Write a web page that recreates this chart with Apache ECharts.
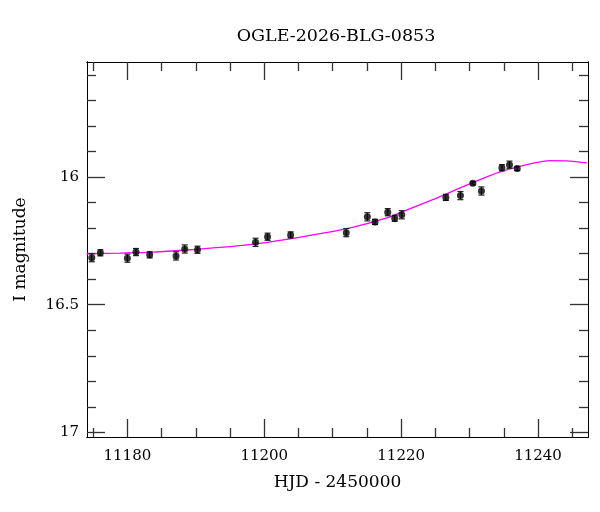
<!DOCTYPE html>
<html>
<head>
<meta charset="utf-8">
<script src="https://cdn.jsdelivr.net/npm/echarts@6/dist/echarts.min.js"></script>
<style>
  html, body { margin: 0; padding: 0; background: #fff; }
  #main { width: 600px; height: 512px; }
</style>
</head>
<body>
<div id="main"></div>
<script>
// photometry (HJD - 2450000, I mag, error)
var hjd = [11174.8, 11176.05, 11180.0, 11181.26, 11183.26, 11187.11, 11188.38, 11190.24,
  11198.73, 11200.48, 11203.85, 11211.98, 11215.06, 11216.18, 11218.04, 11219.06,
  11220.09, 11226.53, 11228.66, 11230.48, 11231.73, 11234.72, 11235.83, 11236.96];
var mag = [16.316, 16.297, 16.318, 16.294, 16.305, 16.309, 16.282, 16.285,
  16.256, 16.234, 16.227, 16.218, 16.156, 16.176, 16.138, 16.162,
  16.148, 16.080, 16.073, 16.025, 16.055, 15.964, 15.952, 15.967];
var magErr = [0.016, 0.012, 0.016, 0.014, 0.012, 0.016, 0.016, 0.014,
  0.016, 0.014, 0.012, 0.016, 0.016, 0.010, 0.014, 0.012,
  0.016, 0.012, 0.016, 0.006, 0.016, 0.012, 0.014, 0.008];

// model curve
var modelHjd = [11174.05, 11178.92, 11183.80, 11188.68, 11193.55, 11198.43, 11203.31,
  11208.18, 11213.06, 11217.94, 11219.84, 11224.71, 11229.60, 11234.47, 11239.34,
  11241.78, 11244.23, 11247.15];
var modelMag = [16.301, 16.298, 16.294, 16.286, 16.276, 16.263, 16.244,
  16.222, 16.196, 16.160, 16.140, 16.088, 16.032, 15.980, 15.946,
  15.936, 15.937, 15.945];

var xMajorTicks = [11180, 11200, 11220, 11240];
var xMinorTicks = [11175, 11185, 11190, 11195, 11205, 11210, 11215, 11225, 11230, 11235, 11245];
var yMajorTicks = [16, 16.5, 17];
var yMinorTicks = [15.6, 15.7, 15.8, 15.9, 16.1, 16.2, 16.3, 16.4, 16.6, 16.7, 16.8, 16.9];

var xMin = 11174.1, xMax = 11247.3;
var yMin = 15.55, yMax = 17.018;

var serif = 'DejaVu Serif';
var tickColor = '#333';

function xAx(pos, ticks, len, withLabel) {
  var a = {
    type: 'value', position: pos, min: xMin, max: xMax,
    axisLine: { show: true, onZero: false, lineStyle: { color: '#000', width: 1 } },
    axisTick: { show: true, inside: true, length: len, customValues: ticks,
      lineStyle: { color: tickColor, width: 1.3 } },
    axisLabel: { show: false },
    splitLine: { show: false }
  };
  if (withLabel) {
    a.axisLabel = { show: true, customValues: ticks, margin: 12,
      formatter: function (v) { return String(v); },
      fontFamily: serif, fontSize: 15, color: '#000' };
    a.name = 'HJD - 2450000';
    a.nameLocation = 'middle';
    a.nameGap = 37;
    a.nameTextStyle = { fontFamily: serif, fontSize: 17, color: '#000' };
  }
  return a;
}

function yAx(pos, ticks, len, withLabel) {
  var a = {
    type: 'value', position: pos, min: yMin, max: yMax, inverse: true,
    axisLine: { show: true, onZero: false, lineStyle: { color: '#000', width: 1 } },
    axisTick: { show: true, inside: true, length: len, customValues: ticks,
      lineStyle: { color: tickColor, width: 1.3 } },
    axisLabel: { show: false },
    splitLine: { show: false }
  };
  if (withLabel) {
    a.axisLabel = { show: true, customValues: ticks, margin: 8,
      formatter: function (v) { return String(v); },
      fontFamily: serif, fontSize: 15, color: '#000' };
    a.name = 'I magnitude';
    a.nameLocation = 'middle';
    a.nameGap = 58;
    a.nameRotate = 90;
    a.nameTextStyle = { fontFamily: serif, fontSize: 17, color: '#000' };
  }
  return a;
}

var myChart = echarts.init(document.getElementById('main'));

var option = {
  animation: false,
  backgroundColor: '#fff',
  title: {
    text: 'OGLE-2026-BLG-0853',
    left: 331,
    top: 22,
    textAlign: 'center',
    textStyle: { fontFamily: serif, fontSize: 17.5, fontWeight: 'normal', color: '#000' }
  },
  grid: { left: 87, right: 12, top: 62, bottom: 75, containLabel: false },
  xAxis: [
    xAx('bottom', xMajorTicks, 18, true),
    xAx('bottom', xMinorTicks, 9, false),
    xAx('top', xMajorTicks, 18, false),
    xAx('top', xMinorTicks, 9, false)
  ],
  yAxis: [
    yAx('left', yMajorTicks, 18, true),
    yAx('left', yMinorTicks, 9, false),
    yAx('right', yMajorTicks, 18, false),
    yAx('right', yMinorTicks, 9, false)
  ],
  series: [
    {
      type: 'line',
      xAxisIndex: 0, yAxisIndex: 0,
      data: modelHjd.map(function (t, i) { return [t, modelMag[i]]; }),
      showSymbol: false,
      smooth: 0.3,
      lineStyle: { color: '#ff00ff', width: 1.3 },
      z: 1
    },
    {
      type: 'custom',
      xAxisIndex: 0, yAxisIndex: 0,
      data: hjd.map(function (t, i) { return [t, mag[i] - magErr[i], mag[i] + magErr[i]]; }),
      encode: { x: 0, y: [1, 2] },
      renderItem: function (params, api) {
        var lo = api.coord([api.value(0), api.value(1)]);
        var hi = api.coord([api.value(0), api.value(2)]);
        var w = 3;
        var st = { stroke: '#222', lineWidth: 1.2 };
        return {
          type: 'group',
          children: [
            { type: 'line', shape: { x1: lo[0], y1: lo[1], x2: hi[0], y2: hi[1] }, style: st },
            { type: 'line', shape: { x1: lo[0] - w, y1: lo[1], x2: lo[0] + w, y2: lo[1] }, style: st },
            { type: 'line', shape: { x1: hi[0] - w, y1: hi[1], x2: hi[0] + w, y2: hi[1] }, style: st }
          ]
        };
      },
      z: 2
    },
    {
      type: 'scatter',
      xAxisIndex: 0, yAxisIndex: 0,
      data: hjd.map(function (t, i) { return [t, mag[i]]; }),
      symbol: 'circle',
      symbolSize: 7,
      itemStyle: { color: '#000' },
      z: 3
    }
  ]
};

myChart.setOption(option);
</script>
</body>
</html>
